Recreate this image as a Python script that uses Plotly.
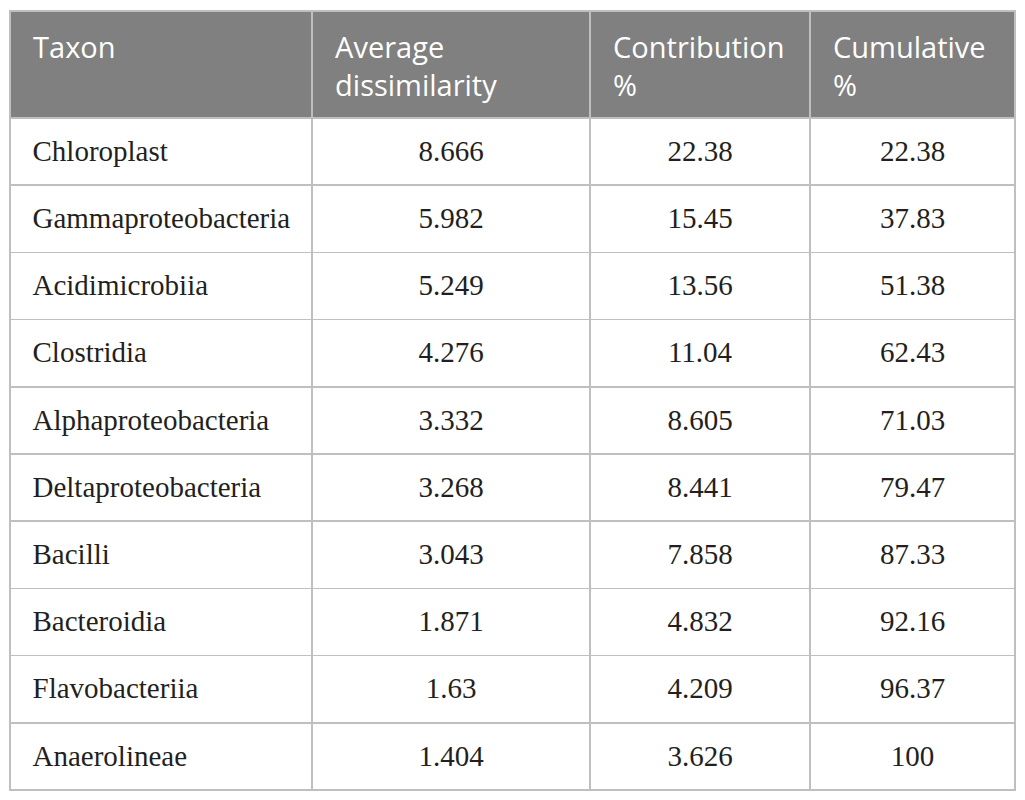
import plotly.graph_objects as go

taxa = ["Chloroplast", "Gammaproteobacteria", "Acidimicrobiia", "Clostridia",
        "Alphaproteobacteria", "Deltaproteobacteria", "Bacilli", "Bacteroidia",
        "Flavobacteriia", "Anaerolineae"]
avg_dissim = ["8.666", "5.982", "5.249", "4.276", "3.332", "3.268", "3.043", "1.871", "1.63", "1.404"]
contrib = ["22.38", "15.45", "13.56", "11.04", "8.605", "8.441", "7.858", "4.832", "4.209", "3.626"]
cumul = ["22.38", "37.83", "51.38", "62.43", "71.03", "79.47", "87.33", "92.16", "96.37", "100"]
headers = ["Taxon<br> ", "Average<br>dissimilarity", "Contribution<br>%", "Cumulative<br>%"]

W, H = 1025, 800
col_w = [302, 278, 220, 205]
pad = "\u00a0\u00a0"  # extra left padding for left aligned text
x_dom = [2 / W, 1007 / W]
top = 3          # px from top of plot area to table top
hdr_h, row_h = 107, 67.2
dy_hdr, dy_body = 8, 13  # push text lower in its cell

# grid: fills and lines only
grid = go.Table(
    domain=dict(x=x_dom, y=[0, 1 - top / H]),
    columnwidth=col_w,
    header=dict(values=["", "", "", ""], fill_color="#808080",
                line=dict(color="#bfbfbf", width=1.5), height=hdr_h),
    cells=dict(values=[[""] * len(taxa)] * 4, fill_color="white",
               line=dict(color="#bfbfbf", width=1.5), height=row_h),
)

# text layer, shifted down a little
text = go.Table(
    domain=dict(x=x_dom, y=[0, 1 - (top + dy_hdr) / H]),
    columnwidth=col_w,
    header=dict(
        values=[pad + h.replace("<br>", "<br>" + pad) for h in headers],
        fill_color="rgba(0,0,0,0)",
        line=dict(color="rgba(0,0,0,0)", width=0),
        align="left",
        height=hdr_h + dy_body - dy_hdr,
        font=dict(family="Open Sans", size=29, color="white"),
    ),
    cells=dict(
        values=[[pad + t for t in taxa], avg_dissim, contrib, cumul],
        fill_color="rgba(0,0,0,0)",
        line=dict(color="rgba(0,0,0,0)", width=0),
        align=["left", "center", "center", "center"],
        height=row_h,
        font=dict(family="Liberation Serif", size=29, color="#231f20"),
    ),
)

fig = go.Figure([grid, text])
fig.update_layout(width=W, height=H, margin=dict(l=0, r=0, t=0, b=0),
                  paper_bgcolor="white")
fig.write_html("out.html")
